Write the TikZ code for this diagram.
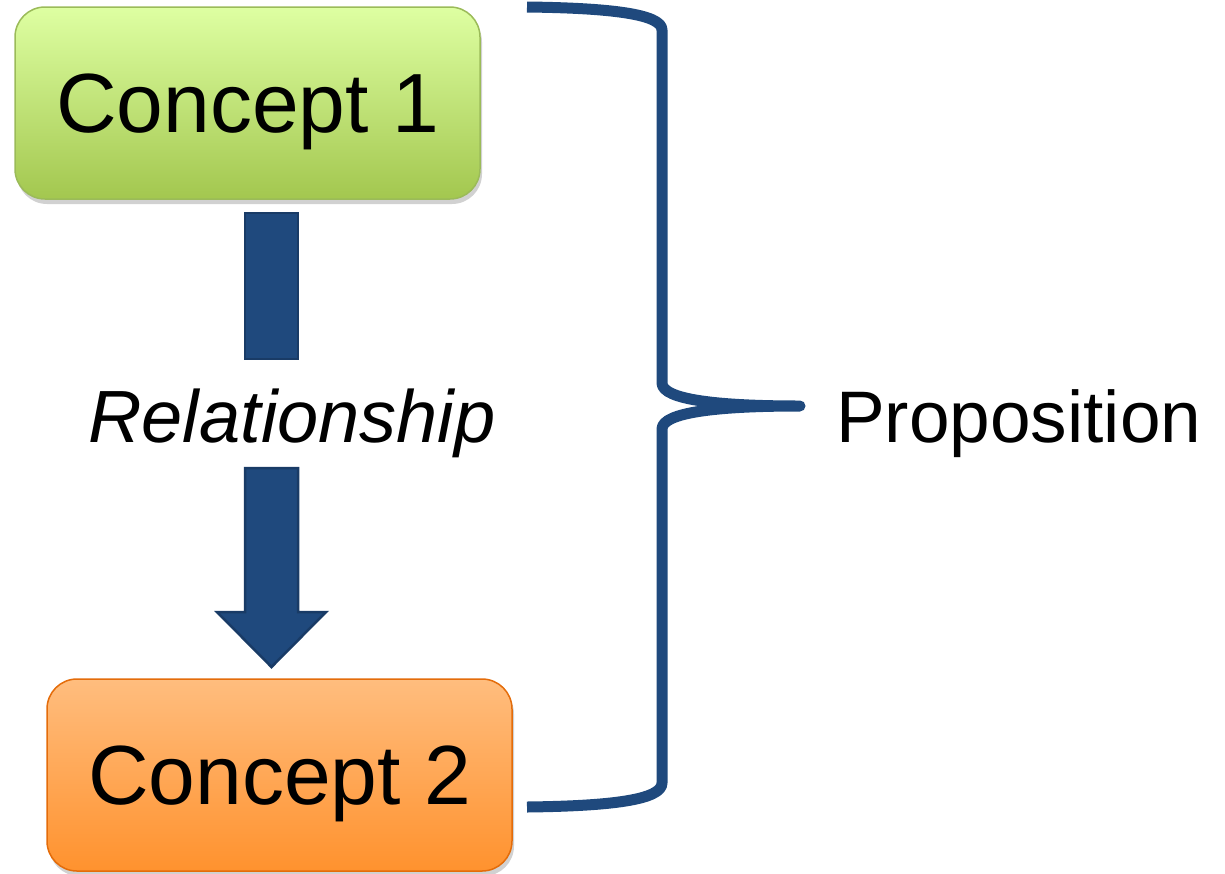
\documentclass[tikz,border=0pt]{standalone}
\usepackage{fontspec}
\setmainfont{Liberation Sans}
\usetikzlibrary{shadows}
\definecolor{navy}{HTML}{1F497D}
\definecolor{navyedge}{HTML}{193B66}
\definecolor{greentop}{HTML}{DEFFA2}
\definecolor{greenbot}{HTML}{A3C74F}
\definecolor{greenedge}{HTML}{9BBB59}
\definecolor{orangetop}{HTML}{FFBD7E}
\definecolor{orangebot}{HTML}{FF922E}
\definecolor{orangeedge}{HTML}{E46C0A}
\tikzset{
  conceptbox/.style={rectangle, rounded corners=30pt, line width=1.5pt,
    minimum width=465pt, minimum height=192pt, inner sep=0pt, text depth=0pt,
    font=\fontsize{84}{100}\selectfont,
    drop shadow={shadow xshift=2pt, shadow yshift=-5pt, opacity=0.18, fill=black}},
  arrowbody/.style={fill=navy, draw=navyedge, line width=2.5pt, line join=miter},
  labeltext/.style={inner sep=0pt, font=\fontsize{74}{90}\selectfont},
  bracket/.style={draw=navy, line width=11pt, line join=round}
}
\begin{document}
\begin{tikzpicture}[x=1pt, y=-1pt]
\useasboundingbox (0,0) rectangle (1225,873);

% the two concepts
\node[conceptbox, draw=greenedge, top color=greentop, bottom color=greenbot] (c1) at (247.5,103) {Concept 1};
\node[conceptbox, draw=orangeedge, top color=orangetop, bottom color=orangebot] (c2) at (279.5,775) {Concept 2};

% the linking phrase
\node[labeltext, font=\fontsize{74}{90}\selectfont\itshape, anchor=base] (rel) at (292,442) {Relationship};

% block arrow, split around the linking phrase
\draw[arrowbody] (245,213) rectangle (298,359);
\draw[arrowbody] (245,468) -- (298,468) -- (298,612) -- (326,612) -- (271.5,667)
  -- (217,612) -- (245,612) -- cycle;

% curly bracket grouping the proposition
\coordinate (btop) at (527,7);
\coordinate (btip) at (800,406);
\coordinate (bbot) at (527,807);
\draw[bracket] (btop) .. controls (610,8) and (662,14) .. (662,30)
  -- (662,383) .. controls (662,400) and (720,406) .. (btip)
  .. controls (720,406) and (662,412) .. (662,429)
  -- (662,783) .. controls (662,800) and (610,806) .. (bbot);

\node[labeltext, font=\fontsize{73}{90}\selectfont, anchor=base west] (prop) at (836,442) {Proposition};
\end{tikzpicture}
\end{document}
